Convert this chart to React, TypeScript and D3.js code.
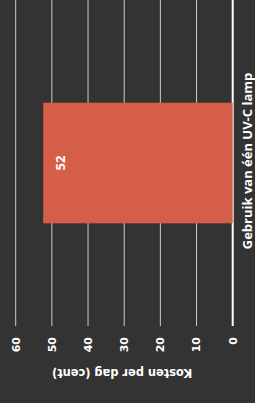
import { useEffect, useRef } from "react";
import * as d3 from "d3";

const categories = ["Gebruik van één UV-C lamp"];
const values = [52.4];
const ticks = [0, 10, 20, 30, 40, 50, 60];
const axisTitle = "Kosten per dag (cent)";

const App = () => {
  const ref = useRef<SVGSVGElement>(null);

  useEffect(() => {
    const width = 255;
    const height = 403;
    const font = "'Open Sans', sans-serif";
    const axisFont = "'DejaVu Sans', Verdana, sans-serif";

    const svg = d3.select(ref.current);
    svg.selectAll("*").remove();
    svg.attr("width", width).attr("height", height);

    svg.append("rect").attr("width", width).attr("height", height).attr("fill", "#333333");

    // value axis runs right to left (chart is turned on its side)
    const x = d3.scaleLinear().domain([0, 60]).range([232.7, 15.7]);
    const y = d3.scaleBand().domain(categories).range([0, 326]).padding(0.46);

    svg.append("g")
      .selectAll()
      .data(ticks)
      .join("line")
      .attr("x1", (d) => x(d))
      .attr("x2", (d) => x(d))
      .attr("y1", 0)
      .attr("y2", 326)
      .attr("stroke", (d) => (d === 0 ? "#ffffff" : "#cccccc"))
      .attr("stroke-width", (d) => (d === 0 ? 2 : 1));

    svg.append("g")
      .selectAll()
      .data(values)
      .join("rect")
      .attr("x", (d) => x(d))
      .attr("width", (d) => x(0) - x(d))
      .attr("y", (_, i) => y(categories[i])!)
      .attr("height", y.bandwidth())
      .attr("fill", "#d55e49");

    svg.append("g")
      .selectAll()
      .data(values)
      .join("text")
      .attr("transform", (d, i) => `translate(${x(d) + 17},${y(categories[i])! + y.bandwidth() / 2}) rotate(-90)`)
      .attr("dy", "0.35em")
      .attr("text-anchor", "middle")
      .attr("font-family", font)
      .attr("font-weight", 700)
      .attr("font-size", 13)
      .attr("fill", "#ffffff")
      .text((d) => d3.format(".0f")(d));

    svg.append("g")
      .selectAll()
      .data(ticks)
      .join("text")
      .attr("transform", (d) => `translate(${x(d)},337) rotate(-90)`)
      .attr("dy", "0.35em")
      .attr("text-anchor", "end")
      .attr("font-family", axisFont)
      .attr("font-weight", 700)
      .attr("font-size", 11)
      .attr("fill", "#ffffff")
      .text((d) => d);

    svg.append("text")
      .attr("transform", `translate(${(x(0) + x(60)) / 2 - 2},373) rotate(180)`)
      .attr("dy", "0.35em")
      .attr("text-anchor", "middle")
      .attr("font-family", axisFont)
      .attr("font-weight", 700)
      .attr("font-size", 11.4)
      .attr("fill", "#ffffff")
      .text(axisTitle);

    svg.append("text")
      .attr("transform", `translate(247,161) rotate(-90)`)
      .attr("dy", "0.35em")
      .attr("text-anchor", "middle")
      .attr("font-family", font)
      .attr("font-weight", 700)
      .attr("font-size", 13)
      .attr("fill", "#ffffff")
      .text(categories[0]);
  }, []);

  return <svg ref={ref} style={{ position: "fixed", left: 0, top: 0, display: "block" }}></svg>;
};

export default App;
